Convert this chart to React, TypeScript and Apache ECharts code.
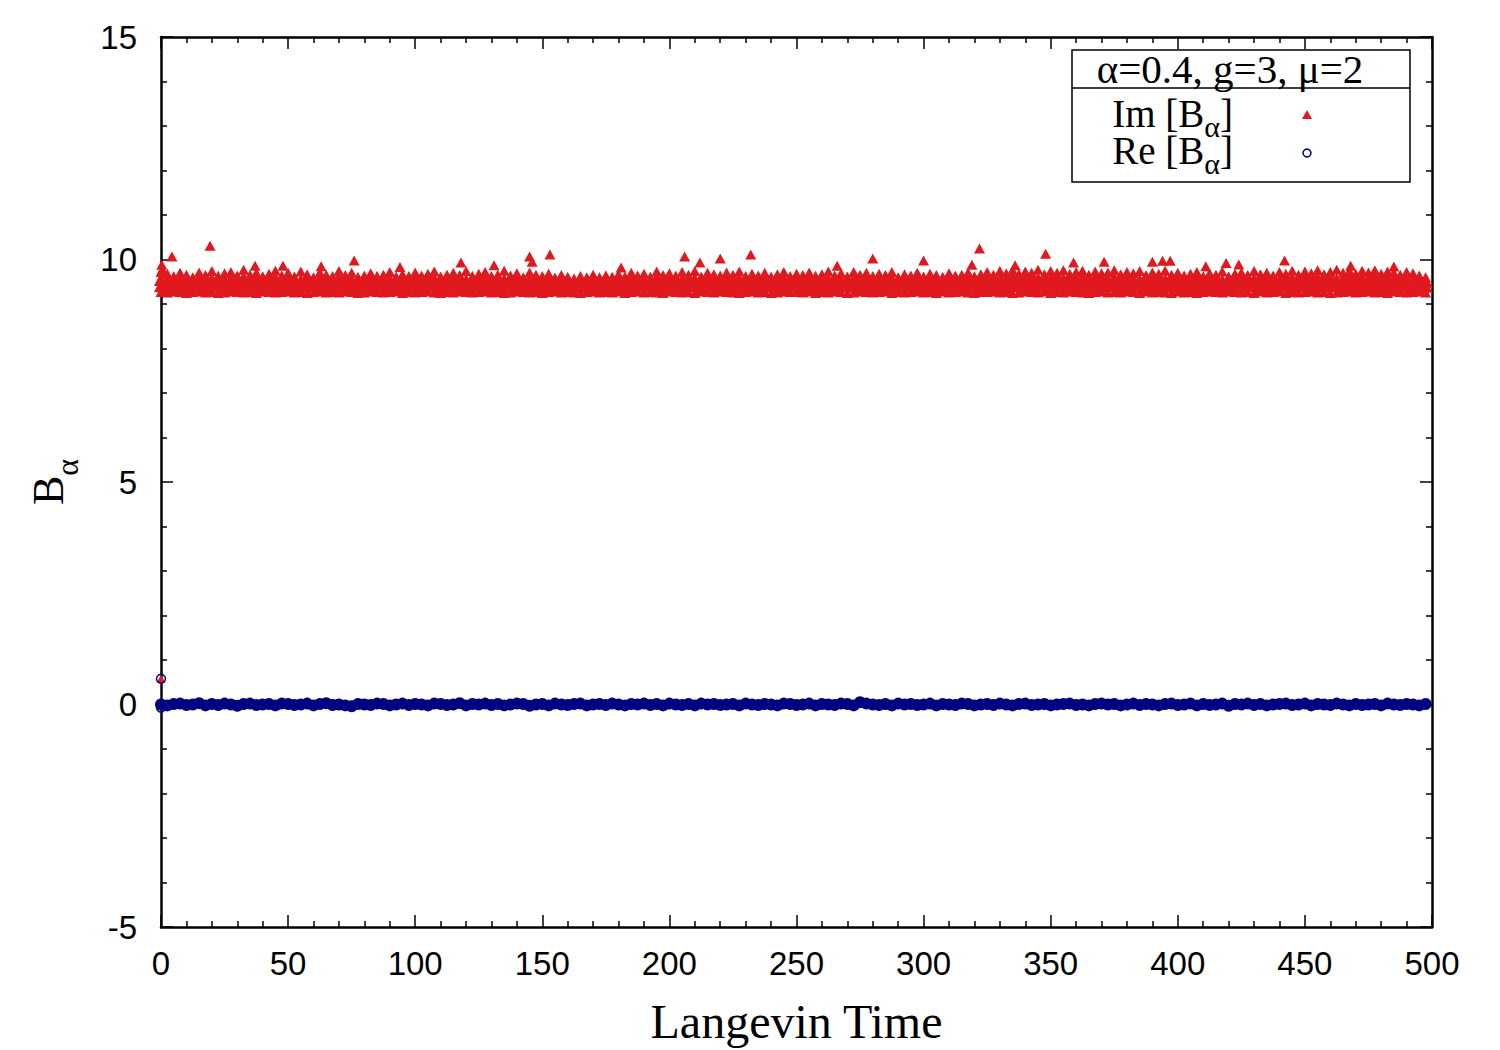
import React, { useEffect, useRef } from "react";
import * as echarts from "echarts";

// Langevin-time grid step of the sampled points
const T_STEP = 2.5;

// Im[B_alpha]: upper envelope of the dense band (one value per T_STEP)
const imTop = [
  9.72, 9.68, 9.62, 9.70, 9.66, 9.60, 9.71, 9.65, 9.74, 9.63,
  9.69, 9.72, 9.64, 9.77, 9.66, 9.70, 9.61, 9.68, 9.75, 9.64,
  9.70, 9.62, 9.73, 9.67, 9.60, 9.71, 9.66, 9.63, 9.74, 9.65,
  9.70, 9.58, 9.64, 9.69, 9.61, 9.66, 9.72, 9.60, 9.67, 9.63,
  9.71, 9.64, 9.68, 9.73, 9.62, 9.66, 9.70, 9.65, 9.74, 9.61,
  9.68, 9.72, 9.63, 9.66, 9.75, 9.64, 9.69, 9.60, 9.71, 9.66,
  9.63, 9.68, 9.59, 9.65, 9.61, 9.57, 9.63, 9.60, 9.66, 9.58,
  9.64, 9.61, 9.67, 9.62, 9.70, 9.64, 9.68, 9.61, 9.73, 9.65,
  9.69, 9.63, 9.72, 9.66, 9.74, 9.62, 9.70, 9.67, 9.64, 9.71,
  9.66, 9.73, 9.61, 9.68, 9.64, 9.70, 9.62, 9.67, 9.72, 9.63,
  9.68, 9.65, 9.71, 9.62, 9.67, 9.73, 9.64, 9.69, 9.61, 9.72,
  9.66, 9.70, 9.63, 9.68, 9.65, 9.72, 9.60, 9.67, 9.64, 9.70,
  9.62, 9.68, 9.65, 9.60, 9.69, 9.63, 9.66, 9.71, 9.61, 9.67,
  9.72, 9.66, 9.74, 9.69, 9.76, 9.68, 9.73, 9.70, 9.77, 9.67,
  9.74, 9.70, 9.76, 9.68, 9.72, 9.75, 9.66, 9.73, 9.69, 9.71,
  9.76, 9.67, 9.72, 9.69, 9.74, 9.65, 9.71, 9.68, 9.75, 9.66,
  9.70, 9.64, 9.68, 9.72, 9.63, 9.69, 9.66, 9.73, 9.62, 9.68,
  9.71, 9.65, 9.74, 9.67, 9.70, 9.64, 9.72, 9.68, 9.75, 9.66,
  9.73, 9.69, 9.76, 9.67, 9.72, 9.77, 9.70, 9.74, 9.68, 9.75,
  9.71, 9.76, 9.68, 9.73, 9.70, 9.66, 9.72, 9.69, 9.64, 9.60,
];

// Im[B_alpha]: upper-middle values inside the band
const imHigh = [
  9.56, 9.53, 9.58, 9.55, 9.57, 9.52, 9.58, 9.54, 9.56, 9.59,
  9.53, 9.57, 9.55, 9.59, 9.52, 9.56, 9.58, 9.54, 9.57, 9.53,
  9.59, 9.55, 9.52, 9.57, 9.54, 9.58, 9.56, 9.53, 9.59, 9.55,
  9.54, 9.57, 9.53, 9.56, 9.59, 9.52, 9.55, 9.58, 9.54, 9.56,
  9.57, 9.53, 9.59, 9.55, 9.52, 9.58, 9.54, 9.56, 9.53, 9.59,
  9.55, 9.57, 9.52, 9.59, 9.54, 9.56, 9.58, 9.53, 9.57, 9.55,
  9.52, 9.56, 9.54, 9.58, 9.53, 9.52, 9.55, 9.54, 9.52, 9.56,
  9.58, 9.54, 9.57, 9.53, 9.59, 9.55, 9.52, 9.56, 9.59, 9.54,
  9.56, 9.59, 9.53, 9.57, 9.55, 9.52, 9.58, 9.54, 9.56, 9.57,
  9.53, 9.55, 9.59, 9.54, 9.57, 9.56, 9.52, 9.58, 9.55, 9.53,
  9.57, 9.54, 9.56, 9.59, 9.53, 9.55, 9.58, 9.52, 9.57, 9.56,
  9.54, 9.58, 9.55, 9.53, 9.59, 9.56, 9.54, 9.57, 9.52, 9.58,
  9.55, 9.53, 9.57, 9.56, 9.54, 9.59, 9.52, 9.56, 9.58, 9.54,
  9.59, 9.56, 9.58, 9.54, 9.60, 9.57, 9.55, 9.59, 9.56, 9.58,
  9.57, 9.60, 9.55, 9.58, 9.56, 9.59, 9.54, 9.57, 9.60, 9.55,
  9.58, 9.54, 9.59, 9.56, 9.53, 9.57, 9.55, 9.60, 9.54, 9.56,
  9.55, 9.57, 9.53, 9.59, 9.54, 9.56, 9.58, 9.52, 9.57, 9.55,
  9.56, 9.59, 9.54, 9.57, 9.55, 9.58, 9.53, 9.60, 9.56, 9.54,
  9.59, 9.55, 9.58, 9.56, 9.60, 9.54, 9.57, 9.59, 9.55, 9.58,
  9.56, 9.60, 9.54, 9.58, 9.55, 9.57, 9.59, 9.53, 9.56, 9.52,
];

// Im[B_alpha]: lower-middle values inside the band
const imMid = [
  9.42, 9.40, 9.43, 9.41, 9.39, 9.42, 9.44, 9.40, 9.41, 9.43,
  9.40, 9.42, 9.39, 9.43, 9.41, 9.40, 9.44, 9.42, 9.39, 9.41,
  9.43, 9.40, 9.42, 9.41, 9.44, 9.39, 9.42, 9.40, 9.43, 9.41,
  9.39, 9.43, 9.40, 9.42, 9.41, 9.44, 9.40, 9.42, 9.39, 9.43,
  9.41, 9.40, 9.43, 9.42, 9.39, 9.41, 9.44, 9.40, 9.42, 9.41,
  9.43, 9.39, 9.41, 9.44, 9.40, 9.42, 9.41, 9.43, 9.39, 9.42,
  9.40, 9.42, 9.41, 9.39, 9.43, 9.40, 9.42, 9.41, 9.44, 9.40,
  9.42, 9.41, 9.43, 9.40, 9.39, 9.42, 9.44, 9.41, 9.40, 9.43,
  9.41, 9.43, 9.40, 9.42, 9.44, 9.39, 9.41, 9.43, 9.40, 9.42,
  9.39, 9.42, 9.41, 9.43, 9.40, 9.42, 9.44, 9.39, 9.41, 9.42,
  9.43, 9.40, 9.42, 9.39, 9.41, 9.44, 9.40, 9.42, 9.43, 9.41,
  9.40, 9.43, 9.41, 9.42, 9.39, 9.40, 9.43, 9.41, 9.44, 9.42,
  9.41, 9.39, 9.42, 9.40, 9.43, 9.41, 9.39, 9.42, 9.40, 9.44,
  9.42, 9.41, 9.43, 9.40, 9.42, 9.44, 9.41, 9.39, 9.43, 9.42,
  9.40, 9.42, 9.41, 9.43, 9.39, 9.42, 9.40, 9.44, 9.41, 9.43,
  9.42, 9.40, 9.43, 9.41, 9.42, 9.39, 9.44, 9.40, 9.42, 9.41,
  9.43, 9.41, 9.40, 9.42, 9.39, 9.43, 9.41, 9.42, 9.40, 9.44,
  9.41, 9.43, 9.42, 9.40, 9.41, 9.39, 9.43, 9.42, 9.40, 9.42,
  9.44, 9.40, 9.42, 9.41, 9.43, 9.42, 9.39, 9.41, 9.43, 9.40,
  9.42, 9.41, 9.43, 9.40, 9.42, 9.44, 9.41, 9.39, 9.42, 9.41,
];

// Im[B_alpha]: lowest values of the band
const imLow = [
  9.27, 9.26, 9.28, 9.27, 9.25, 9.27, 9.28, 9.26, 9.27, 9.25,
  9.26, 9.28, 9.27, 9.26, 9.27, 9.25, 9.28, 9.27, 9.26, 9.27,
  9.28, 9.26, 9.27, 9.25, 9.27, 9.28, 9.26, 9.27, 9.26, 9.28,
  9.27, 9.25, 9.26, 9.28, 9.27, 9.26, 9.27, 9.28, 9.25, 9.27,
  9.26, 9.27, 9.28, 9.26, 9.25, 9.27, 9.26, 9.28, 9.27, 9.26,
  9.27, 9.28, 9.26, 9.27, 9.25, 9.26, 9.28, 9.27, 9.26, 9.27,
  9.25, 9.27, 9.28, 9.26, 9.27, 9.26, 9.25, 9.27, 9.28, 9.26,
  9.27, 9.26, 9.28, 9.25, 9.27, 9.28, 9.26, 9.27, 9.26, 9.25,
  9.28, 9.27, 9.26, 9.27, 9.25, 9.28, 9.27, 9.26, 9.28, 9.27,
  9.26, 9.25, 9.27, 9.28, 9.26, 9.27, 9.25, 9.26, 9.28, 9.27,
  9.27, 9.26, 9.28, 9.25, 9.27, 9.26, 9.28, 9.27, 9.25, 9.26,
  9.28, 9.27, 9.26, 9.27, 9.28, 9.25, 9.27, 9.26, 9.27, 9.28,
  9.26, 9.27, 9.25, 9.28, 9.26, 9.27, 9.28, 9.26, 9.25, 9.27,
  9.27, 9.28, 9.26, 9.27, 9.25, 9.26, 9.28, 9.27, 9.26, 9.28,
  9.25, 9.27, 9.26, 9.28, 9.27, 9.26, 9.25, 9.27, 9.28, 9.26,
  9.27, 9.26, 9.28, 9.27, 9.25, 9.28, 9.26, 9.27, 9.26, 9.25,
  9.28, 9.26, 9.27, 9.25, 9.27, 9.28, 9.27, 9.26, 9.28, 9.27,
  9.26, 9.27, 9.25, 9.28, 9.26, 9.27, 9.28, 9.25, 9.27, 9.26,
  9.27, 9.28, 9.26, 9.27, 9.25, 9.26, 9.27, 9.28, 9.26, 9.27,
  9.28, 9.26, 9.27, 9.25, 9.28, 9.27, 9.26, 9.27, 9.28, 9.26,
];

// Im[B_alpha]: isolated excursions above the band [time, value]
const imSpikes = [
  [0.3, 9.88], [0.5, 9.78], [4.3, 10.07], [19.3, 10.31], [37, 9.86], [48, 9.86],
  [63, 9.85], [76, 9.98], [94, 9.83], [118, 9.93], [131, 9.87], [145, 10.07],
  [146, 9.95], [153, 10.11], [181, 9.82], [206, 10.07], [212, 9.93], [220, 10.02],
  [232, 10.11], [266, 9.86], [280, 10.02], [300, 9.98], [319, 9.88], [322, 10.25],
  [336, 9.87], [348, 10.13], [359, 9.93], [371, 9.95], [390, 9.95], [394, 9.97],
  [397, 9.97], [411, 9.85], [419, 9.92], [424, 9.89], [442, 9.98], [468, 9.86],
  [485, 9.84],
];
const imStart = [[0, 0.58]];

// Re[B_alpha]: values around zero (one value per T_STEP)
const reVals = [
  0.00, -0.02, 0.01, 0.02, -0.01, 0.00, 0.03, -0.02, 0.01, -0.01,
  0.02, 0.00, -0.03, 0.01, 0.02, -0.01, 0.00, 0.01, -0.02, 0.02,
  0.01, -0.01, 0.00, 0.02, -0.02, 0.01, 0.03, -0.01, 0.00, -0.02,
  -0.04, 0.01, 0.00, -0.01, 0.02, 0.01, -0.02, 0.00, 0.02, -0.01,
  0.01, 0.00, -0.02, 0.02, 0.01, -0.01, 0.00, 0.03, -0.02, 0.01,
  0.00, 0.02, -0.01, 0.01, -0.02, 0.00, 0.02, 0.01, -0.03, 0.00,
  0.01, -0.02, 0.02, 0.00, -0.01, 0.01, 0.02, -0.02, 0.00, 0.01,
  -0.01, 0.02, 0.00, -0.02, 0.01, 0.00, 0.02, -0.01, 0.01, -0.02,
  0.02, 0.00, -0.01, 0.01, -0.02, 0.02, 0.00, 0.01, -0.01, 0.00,
  0.01, -0.02, 0.02, 0.00, -0.01, 0.01, 0.00, -0.02, 0.02, 0.01,
  -0.01, 0.00, 0.02, -0.02, 0.01, 0.00, -0.01, 0.02, 0.01, -0.02,
  0.05, 0.02, 0.00, -0.01, 0.01, -0.02, 0.02, 0.00, 0.01, -0.01,
  0.00, 0.02, -0.02, 0.01, 0.00, -0.01, 0.02, 0.01, -0.02, 0.00,
  0.01, -0.01, 0.02, 0.00, -0.02, 0.01, 0.02, -0.01, 0.00, 0.01,
  -0.02, 0.00, 0.01, 0.02, -0.01, 0.00, -0.02, 0.01, 0.02, 0.00,
  0.01, -0.02, 0.00, 0.02, -0.01, 0.01, 0.00, -0.02, 0.01, 0.02,
  -0.01, 0.00, 0.02, -0.02, 0.01, -0.01, 0.00, 0.02, -0.03, 0.01,
  0.00, 0.02, -0.01, 0.01, -0.02, 0.00, 0.01, 0.02, -0.01, 0.00,
  0.02, -0.02, 0.01, 0.00, -0.01, 0.02, 0.00, -0.02, 0.01, -0.01,
  0.00, 0.01, -0.02, 0.02, 0.00, -0.01, 0.01, 0.00, -0.02, 0.01,
];
const reStart = [[0, 0.58], [0, -0.07]];

const yTicks = [-5, 0, 5, 10, 15];
const legendTitle = "α=0.4, g=3, μ=2";
const seriesNames = ["Im [B", "Re [B"];

const RED = "#e0191f";
const NAVY = "#000080";
const SERIF = "'Liberation Serif', 'Times New Roman', serif";
const SANS = "'Liberation Sans', Arial, sans-serif";

const toPts = (vals: number[]) => vals.map((v, i) => [i * T_STEP, v]);

export default function App() {
  const ref = useRef<HTMLDivElement>(null);
  useEffect(() => {
    if (!ref.current) return;
    const chart = echarts.init(ref.current, null, { renderer: "svg" });

    const tickCommon = {
      axisLine: { show: true, onZero: false, lineStyle: { color: "#000", width: 2.5 } },
      axisTick: { show: true, inside: true, length: 12, lineStyle: { color: "#000", width: 1.5 } },
      minorTick: { show: true, splitNumber: 5, length: 6, lineStyle: { color: "#000", width: 1.5 } },
      splitLine: { show: false },
      minorSplitLine: { show: false },
    };

    const redBase = {
      type: "scatter",
      symbol: "triangle",
      itemStyle: { color: RED, opacity: 1 },
      silent: true,
      z: 2,
    };

    const subRich = (fs: number, sub: number, raise: number) => ({
      n: { fontFamily: SERIF, fontSize: fs, color: "#000", verticalAlign: "bottom", padding: [0, 0, raise, 0] },
      s: { fontFamily: SERIF, fontSize: sub, color: "#000", verticalAlign: "bottom" },
    });

    const legendRich = {
      n: { fontFamily: SERIF, fontSize: 39, color: "#000", verticalAlign: "bottom", lineHeight: 28, padding: [0, 0, 8, 0] },
      s: { fontFamily: SERIF, fontSize: 30, color: "#000", verticalAlign: "bottom", lineHeight: 24 },
    };

    chart.setOption({
      animation: false,
      backgroundColor: "#fff",
      grid: { left: 161, right: 68, top: 37, bottom: 121 },
      xAxis: [
        {
          type: "value", min: 0, max: 500, interval: 50, position: "bottom",
          ...tickCommon,
          axisLabel: { fontFamily: SANS, fontSize: 33, color: "#000", margin: 20 },
          name: "Langevin Time", nameLocation: "middle", nameGap: 70,
          nameTextStyle: { fontFamily: SERIF, fontSize: 48, color: "#000" },
        },
        {
          type: "value", min: 0, max: 500, interval: 50, position: "top",
          ...tickCommon, axisLabel: { show: false },
        },
      ],
      yAxis: [
        {
          type: "value", min: yTicks[0], max: yTicks[yTicks.length - 1], interval: 5, position: "left",
          ...tickCommon,
          axisLabel: { fontFamily: SANS, fontSize: 33, color: "#000", margin: 24 },
          name: "{n|B}{s|α}", nameLocation: "middle", nameGap: 78, nameRotate: 90,
          nameTextStyle: { rich: subRich(44, 32, 13) },
        },
        {
          type: "value", min: yTicks[0], max: yTicks[yTicks.length - 1], interval: 5, position: "right",
          ...tickCommon, axisLabel: { show: false },
        },
      ],
      series: [
        { ...redBase, name: "imLow", symbolSize: [11, 10], data: toPts(imLow) },
        { ...redBase, name: "imMid", symbolSize: [14, 14], data: toPts(imMid) },
        { ...redBase, name: "imHigh", symbolSize: [14, 14], data: toPts(imHigh) },
        { ...redBase, name: "imTop", symbolSize: [11, 10], data: toPts(imTop) },
        { ...redBase, name: "imSpikes", symbolSize: [11, 10], data: imSpikes },
        { ...redBase, name: "imStart", symbolSize: [9, 8], data: imStart },
        {
          type: "scatter", name: "re", symbol: "circle", symbolSize: 12, silent: true, z: 3,
          itemStyle: { color: NAVY, opacity: 1 }, data: toPts(reVals),
        },
        {
          type: "scatter", name: "reStart", symbol: "circle", symbolSize: 9, silent: true, z: 4,
          itemStyle: { color: "rgba(0,0,0,0)", borderColor: NAVY, borderWidth: 1.5, opacity: 1 }, data: reStart,
        },
      ],
      graphic: [
        { type: "rect", shape: { x: 1072, y: 50, width: 338, height: 132 }, style: { fill: "#fff", stroke: "#000", lineWidth: 1.5 }, z: 10 },
        { type: "line", shape: { x1: 1072, y1: 88, x2: 1410, y2: 88 }, style: { stroke: "#000", lineWidth: 1.5 }, z: 11 },
        {
          type: "text", x: 1230, y: 69, z: 11,
          style: { text: legendTitle, fontFamily: SERIF, fontSize: 41, fill: "#000", align: "center", verticalAlign: "middle" },
        },
        {
          type: "text", x: 1233, y: 141, z: 11,
          style: { text: `{n|${seriesNames[0]}}{s|α}{n|]}`, align: "right", verticalAlign: "bottom", rich: legendRich },
        },
        {
          type: "text", x: 1233, y: 178, z: 11,
          style: { text: `{n|${seriesNames[1]}}{s|α}{n|]}`, align: "right", verticalAlign: "bottom", rich: legendRich },
        },
        { type: "polygon", shape: { points: [[1307, 110], [1302, 119], [1312, 119]] }, style: { fill: RED }, z: 11 },
        { type: "circle", shape: { cx: 1307, cy: 153, r: 4 }, style: { fill: "none", stroke: NAVY, lineWidth: 1.5 }, z: 11 },
      ],
    });
    return () => chart.dispose();
  }, []);
  return <div ref={ref} style={{ position: "absolute", left: 0, top: 0, width: 1500, height: 1050 }} />;
}
